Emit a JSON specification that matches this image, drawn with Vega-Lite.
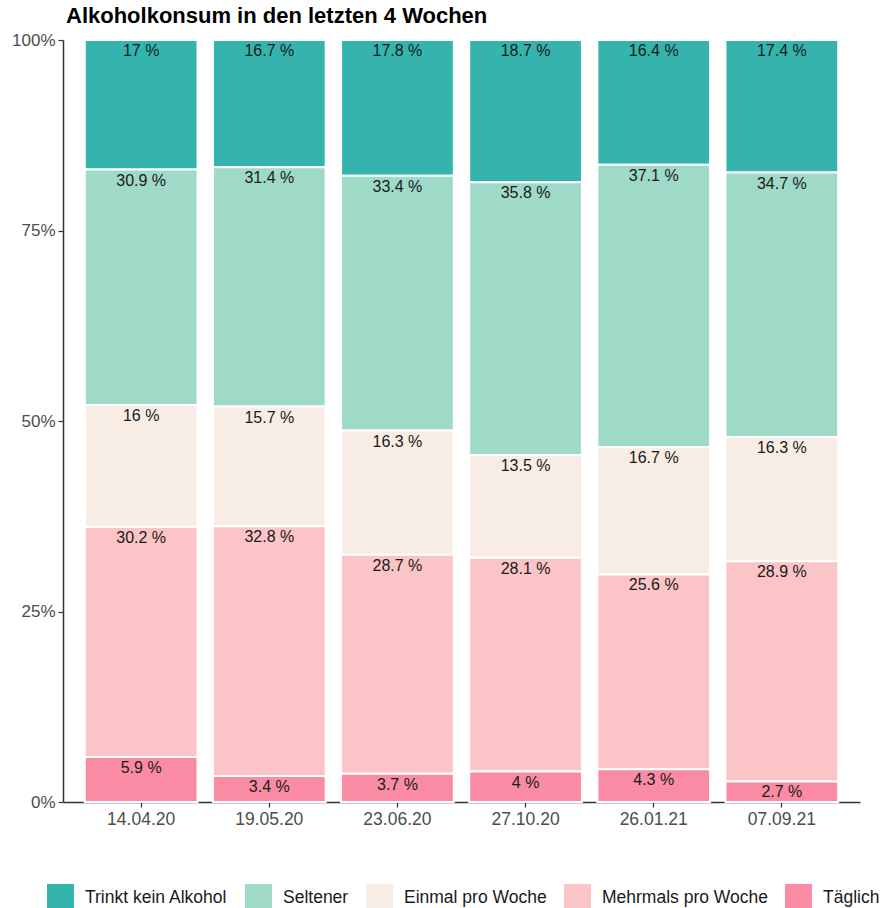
{
  "$schema": "https://vega.github.io/schema/vega-lite/v6.json",
  "width": 797,
  "height": 762,
  "autosize": {"type": "none"},
  "padding": {"left": 63, "top": 40, "right": 31, "bottom": 106},
  "title": {"text": "Alkoholkonsum in den letzten 4 Wochen", "anchor": "start", "frame": "group", "font": "Liberation Sans", "fontSize": 22, "fontWeight": "bold", "color": "#000000", "offset": 3, "dx": 3},
  "config": {"view": {"stroke": null}, "font": "Liberation Sans"},
  "data": {"values": [
    {"datum": "14.04.20", "kategorie": "Trinkt kein Alkohol", "anteil": 17},
    {"datum": "14.04.20", "kategorie": "Seltener", "anteil": 30.9},
    {"datum": "14.04.20", "kategorie": "Einmal pro Woche", "anteil": 16},
    {"datum": "14.04.20", "kategorie": "Mehrmals pro Woche", "anteil": 30.2},
    {"datum": "14.04.20", "kategorie": "Täglich", "anteil": 5.9},
    {"datum": "19.05.20", "kategorie": "Trinkt kein Alkohol", "anteil": 16.7},
    {"datum": "19.05.20", "kategorie": "Seltener", "anteil": 31.4},
    {"datum": "19.05.20", "kategorie": "Einmal pro Woche", "anteil": 15.7},
    {"datum": "19.05.20", "kategorie": "Mehrmals pro Woche", "anteil": 32.8},
    {"datum": "19.05.20", "kategorie": "Täglich", "anteil": 3.4},
    {"datum": "23.06.20", "kategorie": "Trinkt kein Alkohol", "anteil": 17.8},
    {"datum": "23.06.20", "kategorie": "Seltener", "anteil": 33.4},
    {"datum": "23.06.20", "kategorie": "Einmal pro Woche", "anteil": 16.3},
    {"datum": "23.06.20", "kategorie": "Mehrmals pro Woche", "anteil": 28.7},
    {"datum": "23.06.20", "kategorie": "Täglich", "anteil": 3.7},
    {"datum": "27.10.20", "kategorie": "Trinkt kein Alkohol", "anteil": 18.7},
    {"datum": "27.10.20", "kategorie": "Seltener", "anteil": 35.8},
    {"datum": "27.10.20", "kategorie": "Einmal pro Woche", "anteil": 13.5},
    {"datum": "27.10.20", "kategorie": "Mehrmals pro Woche", "anteil": 28.1},
    {"datum": "27.10.20", "kategorie": "Täglich", "anteil": 4},
    {"datum": "26.01.21", "kategorie": "Trinkt kein Alkohol", "anteil": 16.4},
    {"datum": "26.01.21", "kategorie": "Seltener", "anteil": 37.1},
    {"datum": "26.01.21", "kategorie": "Einmal pro Woche", "anteil": 16.7},
    {"datum": "26.01.21", "kategorie": "Mehrmals pro Woche", "anteil": 25.6},
    {"datum": "26.01.21", "kategorie": "Täglich", "anteil": 4.3},
    {"datum": "07.09.21", "kategorie": "Trinkt kein Alkohol", "anteil": 17.4},
    {"datum": "07.09.21", "kategorie": "Seltener", "anteil": 34.7},
    {"datum": "07.09.21", "kategorie": "Einmal pro Woche", "anteil": 16.3},
    {"datum": "07.09.21", "kategorie": "Mehrmals pro Woche", "anteil": 28.9},
    {"datum": "07.09.21", "kategorie": "Täglich", "anteil": 2.7}
  ]},
  "transform": [
    {"calculate": "indexof(['Täglich','Mehrmals pro Woche','Einmal pro Woche','Seltener','Trinkt kein Alkohol'], datum.kategorie)", "as": "ord"},
    {"calculate": "datum.anteil + ' %'", "as": "label"}
  ],
  "encoding": {
    "x": {
      "field": "datum", "type": "ordinal",
      "sort": ["14.04.20", "19.05.20", "23.06.20", "27.10.20", "26.01.21", "07.09.21"],
      "scale": {"paddingInner": 0.12, "paddingOuter": 0.17},
      "axis": {"title": null, "labelAngle": 0, "tickSize": 5, "domainColor": "#333333", "domainWidth": 1.5, "tickColor": "#333333", "tickWidth": 1.2, "labelColor": "#4d4d4d", "labelFontSize": 17.5, "labelPadding": 3, "grid": false}
    },
    "y": {
      "field": "anteil", "type": "quantitative", "stack": "normalize",
      "axis": {"title": null, "values": [0, 0.25, 0.5, 0.75, 1], "format": ".0%", "tickSize": 5, "domainColor": "#333333", "domainWidth": 1.5, "tickColor": "#333333", "tickWidth": 1.2, "labelColor": "#4d4d4d", "labelFontSize": 17, "labelPadding": 3, "grid": false}
    },
    "order": {"field": "ord", "type": "quantitative"}
  },
  "layer": [
    {
      "mark": {"type": "bar", "stroke": "white", "strokeWidth": 2},
      "encoding": {
        "color": {
          "field": "kategorie", "type": "nominal",
          "sort": ["Trinkt kein Alkohol", "Seltener", "Einmal pro Woche", "Mehrmals pro Woche", "Täglich"],
          "scale": {
            "domain": ["Trinkt kein Alkohol", "Seltener", "Einmal pro Woche", "Mehrmals pro Woche", "Täglich"],
            "range": ["#35b4ae", "#9fd9c8", "#f8ede5", "#fbc4c6", "#f98ca4"]
          },
          "legend": {
            "title": null, "orient": "none", "direction": "horizontal", "legendX": -16, "legendY": 844,
            "symbolType": "square", "symbolSize": 729, "symbolStrokeWidth": 0, "symbolOpacity": 1,
            "labelFontSize": 17.5, "labelColor": "#1a1a1a", "labelOffset": 11, "columnPadding": 17, "padding": 0, "labelLimit": 400
          }
        }
      }
    },
    {
      "mark": {"type": "text", "baseline": "top", "dy": 3, "fontSize": 16, "color": "#1a1a1a"},
      "encoding": {
        "detail": {"field": "kategorie"},
        "text": {"field": "label"}
      }
    }
  ]
}
